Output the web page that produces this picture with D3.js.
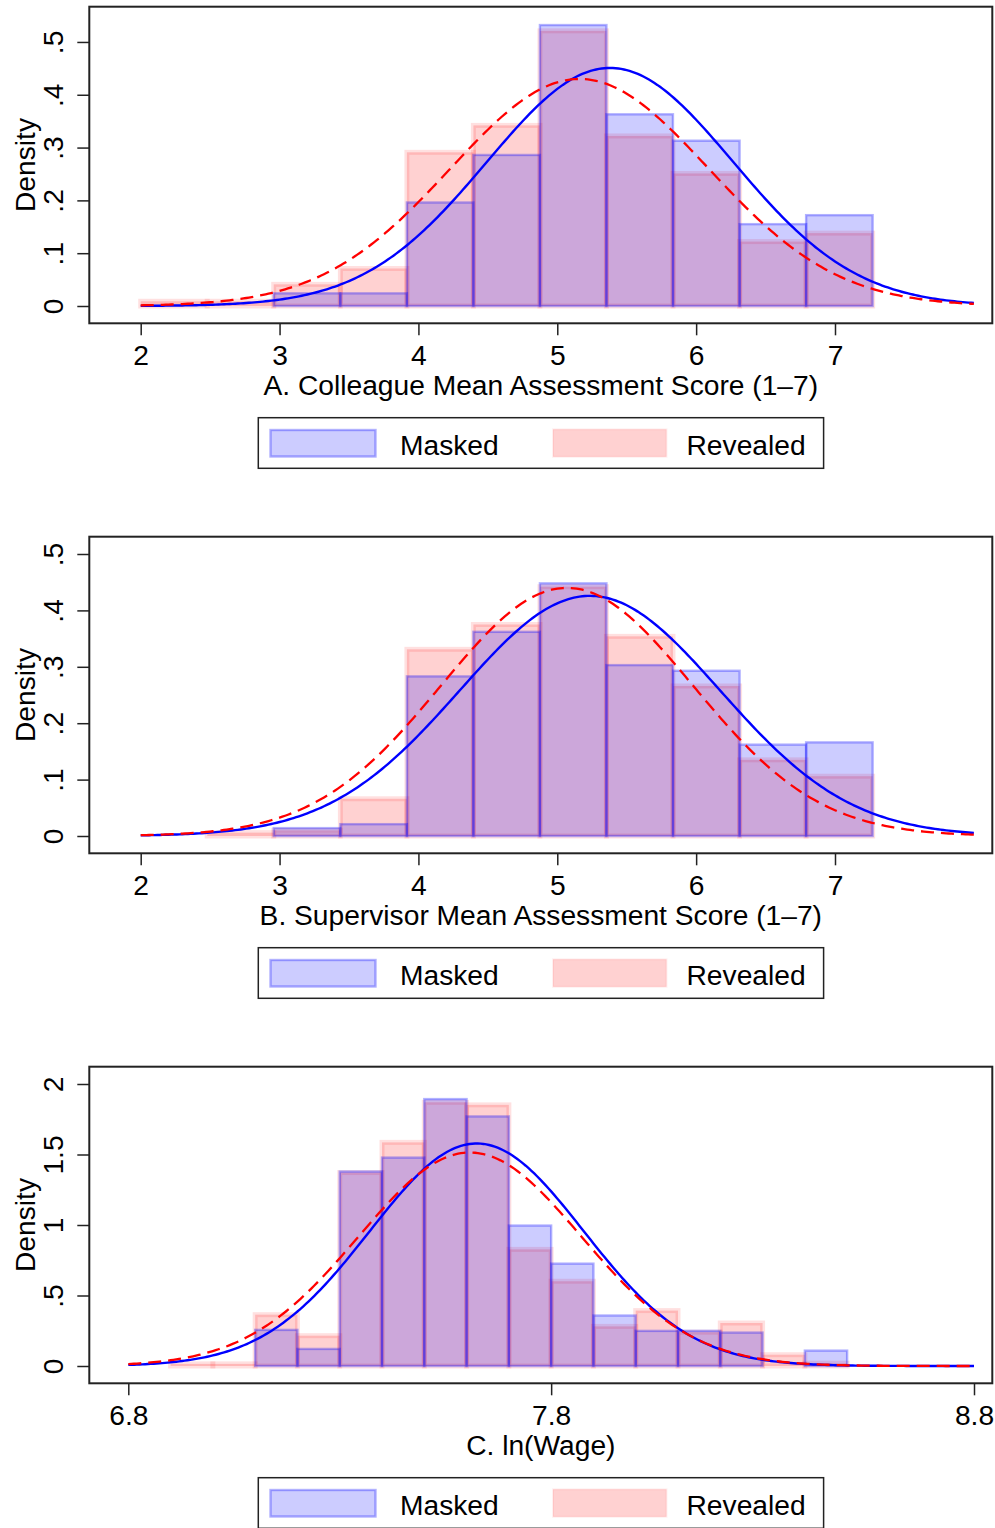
<!DOCTYPE html>
<html>
<head>
<meta charset="utf-8">
<script src="https://cdn.jsdelivr.net/npm/d3@7"></script>
<style>
body{margin:0;background:#fff}
svg{display:block;font-family:"Liberation Sans",Arial,Helvetica,sans-serif}
</style>
</head>
<body>
<svg></svg>
<script>
// titles and legend
var panelTitles=["A. Colleague Mean Assessment Score (1–7)","B. Supervisor Mean Assessment Score (1–7)","C. ln(Wage)"]
var legendLabels=["Masked","Revealed"]

// histogram bins (left edges)
var scoreBins=[2.000,2.479,2.958,3.438,3.917,4.396,4.875,5.354,5.834,6.313,6.792]
var scoreBinWidth=0.479
var wageBins=[6.9,7.0,7.1,7.2,7.3,7.4,7.5,7.6,7.7,7.8,7.9,8.0,8.1,8.2,8.3,8.4]
var wageBinWidth=0.1

// densities
var colleagueMasked=[0,0,0.024,0.024,0.196,0.286,0.532,0.363,0.313,0.155,0.172]
var colleagueRevealed=[0.009,0.009,0.041,0.071,0.291,0.342,0.521,0.322,0.251,0.122,0.138]
var supervisorMasked=[0,0,0.014,0.021,0.283,0.362,0.448,0.303,0.293,0.162,0.166]
var supervisorRevealed=[0,0.006,0.010,0.066,0.331,0.375,0.442,0.354,0.266,0.135,0.106]
var wageMasked=[0,0,0.256,0.121,1.379,1.478,1.893,1.770,0.996,0.726,0.358,0.249,0.249,0.237,0,0.109]
var wageRevealed=[0.015,0.015,0.364,0.215,1.372,1.586,1.870,1.852,0.827,0.601,0.281,0.393,0.240,0.305,0.080,0.020]

// normal overlays [mean, sd]
var colleagueMaskedNormal=[5.38,0.885]
var colleagueRevealedNormal=[5.16,0.928]
var supervisorMaskedNormal=[5.235,0.937]
var supervisorRevealedNormal=[5.07,0.907]
var wageMaskedNormal=[7.624,0.2528]
var wageRevealedNormal=[7.608,0.2635]
var scoreCurveRange=[2,8]
var wageCurveRange=[6.8,8.8]

// ticks
var scoreTicks=[2,3,4,5,6,7]
var scoreTickLabels=["2","3","4","5","6","7"]
var wageTicks=[6.8,7.8,8.8]
var wageTickLabels=["6.8","7.8","8.8"]
var scoreDensityTicks=[0,.1,.2,.3,.4,.5]
var scoreDensityLabels=["0",".1",".2",".3",".4",".5"]
var wageDensityTicks=[0,.5,1,1.5,2]
var wageDensityLabels=["0",".5","1","1.5","2"]

var width=995
var height=1528
var fontSize=28.2

var svg=d3.select("svg")
    .attr("width",width)
    .attr("height",height)

var frame={left:89.3,top:6.7,right:992.3,bottom:323.3}

var panels=[
  {title:panelTitles[0],bins:scoreBins,bw:scoreBinWidth,masked:colleagueMasked,revealed:colleagueRevealed,
   mN:colleagueMaskedNormal,rN:colleagueRevealedNormal,curve:scoreCurveRange,
   xDomain:[2,7],xRange:[140.7,835],xTicks:scoreTicks,xLabels:scoreTickLabels,
   yTop:0.534,yTicks:scoreDensityTicks,yLabels:scoreDensityLabels,offset:0},
  {title:panelTitles[1],bins:scoreBins,bw:scoreBinWidth,masked:supervisorMasked,revealed:supervisorRevealed,
   mN:supervisorMaskedNormal,rN:supervisorRevealedNormal,curve:scoreCurveRange,
   xDomain:[2,7],xRange:[140.7,835],xTicks:scoreTicks,xLabels:scoreTickLabels,
   yTop:0.5,yTicks:scoreDensityTicks,yLabels:scoreDensityLabels,offset:530},
  {title:panelTitles[2],bins:wageBins,bw:wageBinWidth,masked:wageMasked,revealed:wageRevealed,
   mN:wageMaskedNormal,rN:wageRevealedNormal,curve:wageCurveRange,
   xDomain:[6.8,8.8],xRange:[128.3,974],xTicks:wageTicks,xLabels:wageTickLabels,
   yTop:2,yTicks:wageDensityTicks,yLabels:wageDensityLabels,offset:1060}
]

var normalPdf=function(x,m,s){
    return Math.exp(-0.5*Math.pow((x-m)/s,2))/(s*Math.sqrt(2*Math.PI))
}

var drawPanel=function(p){
    var g=svg.append("g").attr("transform","translate(0,"+p.offset+")")

    var xScale=d3.scaleLinear().domain(p.xDomain).range(p.xRange)
    var yScale=d3.scaleLinear().domain([0,p.yTop]).range([306,24])

    var bars=function(values,cls,fill,stroke,sw){
        var data=p.bins.map(function(b,i){return {x0:b,x1:b+p.bw,v:values[i]}})
            .filter(function(d){return d.v>0})
        g.append("g").attr("class",cls)
            .selectAll("rect")
            .data(data)
            .enter()
            .append("rect")
            .attr("x",function(d){return xScale(d.x0)})
            .attr("width",function(d){return xScale(d.x1)-xScale(d.x0)})
            .attr("y",function(d){return yScale(d.v)})
            .attr("height",function(d){return yScale(0)-yScale(d.v)})
            .attr("fill",fill)
            .attr("stroke",stroke)
            .attr("stroke-width",sw)
    }
    bars(p.revealed,"revealed","rgba(255,0,0,0.18)","rgba(255,0,0,0.12)",5)
    bars(p.masked,"masked","rgba(0,0,255,0.2)","rgba(0,0,255,0.3)",2.4)

    // normal curves
    var step=(p.curve[1]-p.curve[0])/300
    var xs=d3.range(p.curve[0],p.curve[1]+step/2,step)
    var line=d3.line()
        .x(function(d){return xScale(d[0])})
        .y(function(d){return yScale(d[1])})
    g.append("path")
        .datum(xs.map(function(x){return [x,normalPdf(x,p.mN[0],p.mN[1])]}))
        .attr("d",line)
        .attr("fill","none")
        .attr("stroke","#0000ff")
        .attr("stroke-width",2.4)
    g.append("path")
        .datum(xs.map(function(x){return [x,normalPdf(x,p.rN[0],p.rN[1])]}))
        .attr("d",line)
        .attr("fill","none")
        .attr("stroke","#ff0000")
        .attr("stroke-width",2.3)
        .attr("stroke-dasharray","13,7")

    // frame
    g.append("rect")
        .attr("x",frame.left)
        .attr("y",frame.top)
        .attr("width",frame.right-frame.left)
        .attr("height",frame.bottom-frame.top)
        .attr("fill","none")
        .attr("stroke","#222")
        .attr("stroke-width",2)

    // x axis
    var xAxis=d3.axisBottom(xScale)
        .tickValues(p.xTicks)
        .tickFormat(function(d,i){return p.xLabels[i]})
        .tickSize(12)
        .tickPadding(9.5)
    var gx=g.append("g")
        .attr("transform","translate(0,"+frame.bottom+")")
        .call(xAxis)
    gx.select(".domain").remove()
    gx.selectAll("line").attr("stroke","#222").attr("stroke-width",1.5)
    gx.selectAll("text").attr("font-size",fontSize).attr("fill","#000").attr("font-family",null)

    // y axis
    var yAxis=d3.axisLeft(yScale)
        .tickValues(p.yTicks)
        .tickFormat(function(d,i){return p.yLabels[i]})
        .tickSize(12)
    var gy=g.append("g")
        .attr("transform","translate("+frame.left+",0)")
        .call(yAxis)
    gy.select(".domain").remove()
    gy.selectAll("line").attr("stroke","#222").attr("stroke-width",1.5)
    gy.selectAll("text")
        .attr("x",0)
        .attr("dy",null)
        .attr("text-anchor","middle")
        .attr("transform","translate(-26,0) rotate(-90)")
        .attr("font-size",fontSize)
        .attr("fill","#000")
        .attr("font-family",null)

    // titles
    g.append("text")
        .attr("transform","translate(34.5,"+((frame.top+frame.bottom)/2)+") rotate(-90)")
        .attr("text-anchor","middle")
        .attr("font-size",fontSize)
        .text("Density")
    g.append("text")
        .attr("x",(frame.left+frame.right)/2)
        .attr("y",395)
        .attr("text-anchor","middle")
        .attr("font-size",fontSize)
        .text(p.title)

    // legend
    var lg=g.append("g").attr("class","legend")
    lg.append("rect")
        .attr("x",258.3).attr("y",417.7)
        .attr("width",565.3).attr("height",50.6)
        .attr("fill","#fff").attr("stroke","#222").attr("stroke-width",1.5)
    lg.append("rect")
        .attr("x",270.5).attr("y",430)
        .attr("width",105).attr("height",26.5)
        .attr("fill","rgba(0,0,255,0.2)").attr("stroke","rgba(0,0,255,0.3)").attr("stroke-width",2.4)
    lg.append("rect")
        .attr("x",553).attr("y",429.3)
        .attr("width",113.5).attr("height",27.5)
        .attr("fill","rgba(255,0,0,0.18)").attr("stroke","rgba(255,0,0,0.06)").attr("stroke-width",2)
    lg.append("text").attr("x",400).attr("y",455).attr("font-size",fontSize).text(legendLabels[0])
    lg.append("text").attr("x",686.5).attr("y",455).attr("font-size",fontSize).text(legendLabels[1])
}

panels.forEach(drawPanel)
</script>
</body>
</html>
